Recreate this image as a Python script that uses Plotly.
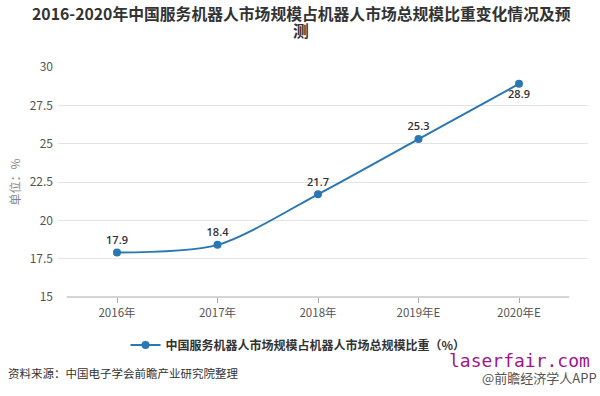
import plotly.graph_objects as go

categories = ["2016年", "2017年", "2018年", "2019年E", "2020年E"]
values = [17.9, 18.4, 21.7, 25.3, 28.9]
label_pos = ["top center", "top center", "top center", "top center", "bottom center"]
y_ticks = [15, 17.5, 20, 22.5, 25, 27.5, 30]
series_name = "中国服务机器人市场规模占机器人市场总规模比重（%）"
title_lines = ["2016-2020年中国服务机器人市场规模占机器人市场总规模比重变化情况及预", "测"]

W, H = 600, 396
# on-screen plot area (pixels)
SL, SR, ST, SB = 58, 588, 67, 297
cat_left, cat_step = 117, 100.5   # screen x of first category, spacing
xr0 = (SL - cat_left) / cat_step
xr1 = (SR - cat_left) / cat_step

line_color = "#2a77b4"
font_family = "Noto Sans CJK SC, Noto Sans, sans-serif"


def px_x(sx):
    return (sx - SL) / (SR - SL)


def px_y(sy):
    return (SB - sy) / (SB - ST)


fig = go.Figure()
fig.add_trace(go.Scatter(
    x=categories, y=values, mode="lines+markers+text",
    name=series_name,
    line=dict(color=line_color, width=2, shape="spline", smoothing=0.8),
    marker=dict(color=line_color, size=8),
    text=[f"{v:.1f}" for v in values],
    textposition=label_pos,
    textfont=dict(size=11, color="#333333", family="Open Sans, sans-serif", weight=600),
    cliponaxis=False,
))

fig.update_layout(
    width=W, height=H,
    margin=dict(l=SL, r=W - SR, t=ST, b=H - SB, autoexpand=False),
    paper_bgcolor="white", plot_bgcolor="white",
    font=dict(family=font_family, color="#555555"),
    showlegend=True,
    legend=dict(orientation="h", x=px_x(298), xanchor="center", y=px_y(345), yanchor="middle",
                font=dict(size=12, color="#333333", weight="bold"),
                itemwidth=30),
    xaxis=dict(
        type="category", range=[xr0, xr1], automargin=False,
        showline=False,
        ticks="outside", tickcolor="#aaaaaa", ticklen=5,
        showgrid=False, tickfont=dict(size=11.5, color="#555555"),
        zeroline=False,
    ),
    yaxis=dict(
        range=[15, 30], tickvals=y_ticks, automargin=False,
        ticktext=[("%g" % v) for v in y_ticks],
        showgrid=True, gridcolor="#e4e4e4", gridwidth=1,
        showline=False, zeroline=False,
        tickfont=dict(size=12, color="#555555"),
        title=dict(text="单位：%", font=dict(size=12, color="#888888"), standoff=6),
        ticks="", ticklabelstandoff=4,
    ),
)

# title, wrapped onto two lines as in the reference
for line_text, sy in zip(title_lines, [13, 30]):
    fig.add_annotation(text=line_text, xref="paper", yref="paper",
                       x=px_x(301), xanchor="center", y=px_y(sy), yanchor="middle",
                       showarrow=False,
                       font=dict(size=15.8, color="#333333", family=font_family, weight="bold"))

# x axis baseline spanning the category bands only
fig.add_shape(type="line", xref="x", yref="paper", x0=-0.5, x1=len(categories) - 0.5,
              y0=0, y1=0, line=dict(color="#aaaaaa", width=1))

fig.add_annotation(text="资料来源：中国电子学会前瞻产业研究院整理", xref="paper", yref="paper",
                   x=px_x(6), xanchor="left",
                   y=px_y(373), yanchor="middle", showarrow=False,
                   font=dict(size=11.5, color="#333333"))
fig.add_annotation(text="laserfair.com", xref="paper", yref="paper",
                   x=px_x(592), xanchor="right",
                   y=px_y(360), yanchor="middle", showarrow=False,
                   font=dict(size=18, color="#a0168a", family="DejaVu Sans Mono, monospace"))
fig.add_annotation(text="@前瞻经济学人APP", xref="paper", yref="paper",
                   x=px_x(599), xanchor="right",
                   y=px_y(377), yanchor="middle", showarrow=False,
                   font=dict(size=13, color="#555555"))

fig.write_html("out.html", config={"displayModeBar": False},
               post_script="document.body.style.margin='0px';")
